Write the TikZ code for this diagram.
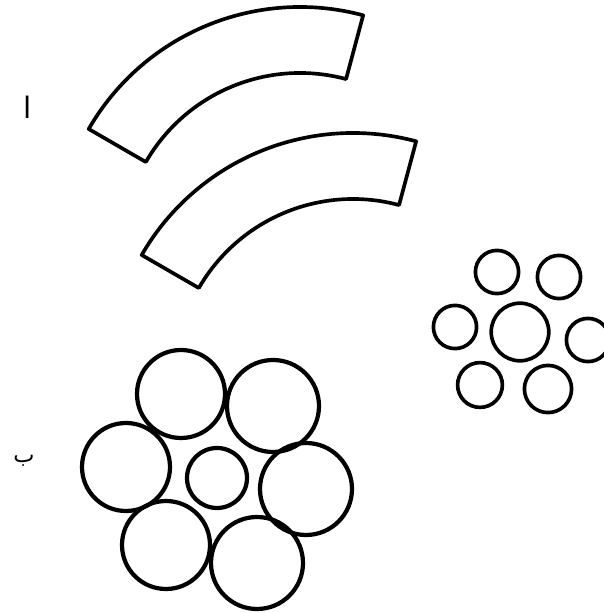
\documentclass[tikz,border=0pt]{standalone}
\usepackage{fontspec}
\newfontfamily\arabicfont[Script=Arabic]{DejaVu Sans}
\TeXXeTstate=1
\tikzset{
  band/.style={line width=2.6pt, line join=round},
  ring/.style={line width=3pt},
  smallring/.style={line width=2.6pt},
  letter/.style={inner sep=0pt, font=\arabicfont}
}
\begin{document}
\begin{tikzpicture}
    \useasboundingbox (0,0) rectangle (15.1,15.325);
    % Labels
    \node[letter, font=\arabicfont\fontsize{21}{24}\selectfont] (alef) at (0.7,12.65) {\beginR ا\endR};
    \node[letter, font=\arabicfont\fontsize{16}{18}\selectfont] (beh) at (0.6,3.8) {\beginR ب\endR};
    % Upper curved strip
    \draw[band, shift={(7.5,9.05)}] (75:6.1) arc[start angle=75, end angle=150, radius=6.1]
        -- (150:4.45) arc[start angle=150, end angle=75, radius=4.45] -- cycle;
    % Lower curved strip
    \draw[band, shift={(8.825,5.9)}] (75:6.1) arc[start angle=75, end angle=150, radius=6.1]
        -- (150:4.45) arc[start angle=150, end angle=75, radius=4.45] -- cycle;
    % Large cluster: small core with six rings around it
    \draw[ring] (5.425,3.375) circle (0.75);
    \draw[ring] (4.525,5.475) circle (1.1);
    \draw[ring] (6.825,5.175) circle (1.15);
    \draw[ring] (3.15,3.65) circle (1.1);
    \draw[ring] (7.65,3.1) circle (1.15);
    \draw[ring] (4.15,1.7) circle (1.1);
    \draw[ring] (6.425,1.25) circle (1.15);
    % Small cluster
    \draw[smallring] (13.0,7.025) circle (0.72);
    \draw[smallring] (12.425,8.525) circle (0.54);
    \draw[smallring] (13.975,8.4) circle (0.54);
    \draw[smallring] (11.375,7.15) circle (0.54);
    \draw[smallring] (14.7,6.825) circle (0.54);
    \draw[smallring] (12.0,5.7) circle (0.56);
    \draw[smallring] (13.7,5.6) circle (0.59);
\end{tikzpicture}
\end{document}
